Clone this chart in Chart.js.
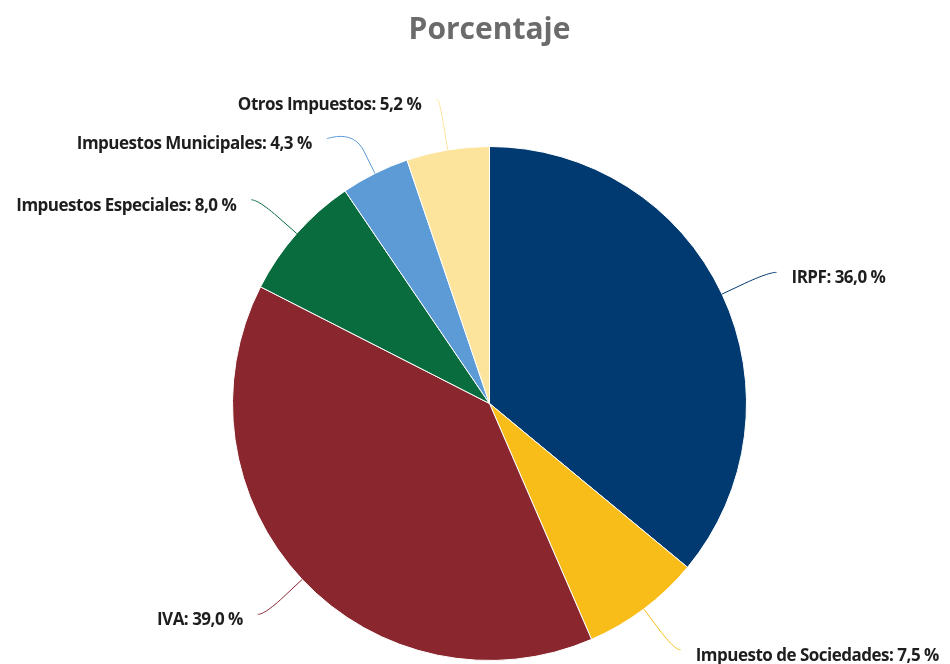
<!DOCTYPE html>
<html>
<head>
<meta charset="utf-8">
<script src="https://cdn.jsdelivr.net/npm/chart.js@4"></script>
<style>
  html, body { margin: 0; padding: 0; background: #fff; }
  #wrap { width: 950px; height: 664px; position: relative; }
</style>
</head>
<body>
<div id="wrap"><canvas id="pieChart"></canvas></div>
<script>
"use strict"

const categories = ['IRPF', 'Impuesto de Sociedades', 'IVA', 'Impuestos Especiales', 'Impuestos Municipales', 'Otros Impuestos'];
const percentages = [36.0, 7.5, 39.0, 8.0, 4.3, 5.2];
const sliceColors = ['#003a70', '#f8bd19', '#8a262e', '#086c3f', '#5c9bd5', '#fde49c'];

const fmt = v => v.toFixed(1).replace('.', ',') + ' %';

// labels outside the pie with soft connector lines
const outsideLabels = {
    id: 'outsideLabels',
    afterDatasetsDraw(chart) {
        const ctx = chart.ctx;
        const meta = chart.getDatasetMeta(0);
        const items = meta.data.map((arc, i) => {
            const mid = (arc.startAngle + arc.endAngle) / 2;
            const r = arc.outerRadius;
            return {
                i, mid, r, cx: arc.x, cy: arc.y,
                Rx: r + 58, Ry: r + 51,
                right: Math.cos(mid) >= 0,
                y: arc.y + (r + 51) * Math.sin(mid)
            };
        });

        // push overlapping labels apart on each side
        [true, false].forEach(side => {
            const list = items.filter(it => it.right === side).sort((a, b) => a.y - b.y);
            for (let k = 1; k < list.length; k++) {
                if (list[k].y - list[k - 1].y < 39) list[k].y = list[k - 1].y + 39;
            }
        });

        ctx.save();
        items.forEach(it => {
            const dy = it.y - it.cy;
            const t = Math.min(Math.abs(dy) / it.Ry, 1);
            const dx = it.Rx * Math.sqrt(1 - t * t);
            const ax = it.cx + (it.right ? dx : -dx);
            const ay = it.y;
            const cos = Math.cos(it.mid), sin = Math.sin(it.mid);
            const ex = it.cx + it.r * cos, ey = it.cy + it.r * sin;
            const mx = it.cx + (it.r + 25) * cos, my = it.cy + (it.r + 25) * sin;
            const c2x = 2 * mx - ex, c2y = 2 * my - ey;

            ctx.beginPath();
            ctx.moveTo(ax + (it.right ? 2 : -2), ay);
            ctx.bezierCurveTo(ax, ay, c2x, c2y, mx, my);
            ctx.lineTo(ex, ey);
            ctx.strokeStyle = sliceColors[it.i];
            ctx.lineWidth = 1;
            ctx.stroke();

            ctx.font = 'bold 17px "Open Sans"';
            ctx.letterSpacing = '-0.5px';
            ctx.fillStyle = '#1e1e1e';
            ctx.textBaseline = 'middle';
            ctx.textAlign = it.right ? 'left' : 'right';
            ctx.fillText(categories[it.i] + ': ' + fmt(percentages[it.i]), ax + (it.right ? 17 : -17), ay + 6);
        });
        ctx.restore();
    }
};

new Chart(document.getElementById('pieChart'), {
    type: 'pie',
    data: {
        labels: categories,
        datasets: [{
            data: percentages,
            backgroundColor: sliceColors,
            borderColor: '#ffffff',
            borderWidth: 1
        }]
    },
    options: {
        responsive: true,
        maintainAspectRatio: false,
        animation: false,
        layout: {
            padding: { left: 232, right: 203, top: 0, bottom: 3 }
        },
        plugins: {
            legend: { display: false },
            tooltip: { enabled: false },
            title: {
                display: true,
                text: 'Porcentaje',
                color: '#6b6b6b',
                font: { family: '"Open Sans"', size: 30, weight: 'bold' },
                padding: { top: 12, bottom: 98 }
            }
        }
    },
    plugins: [outsideLabels]
});
</script>
</body>
</html>
